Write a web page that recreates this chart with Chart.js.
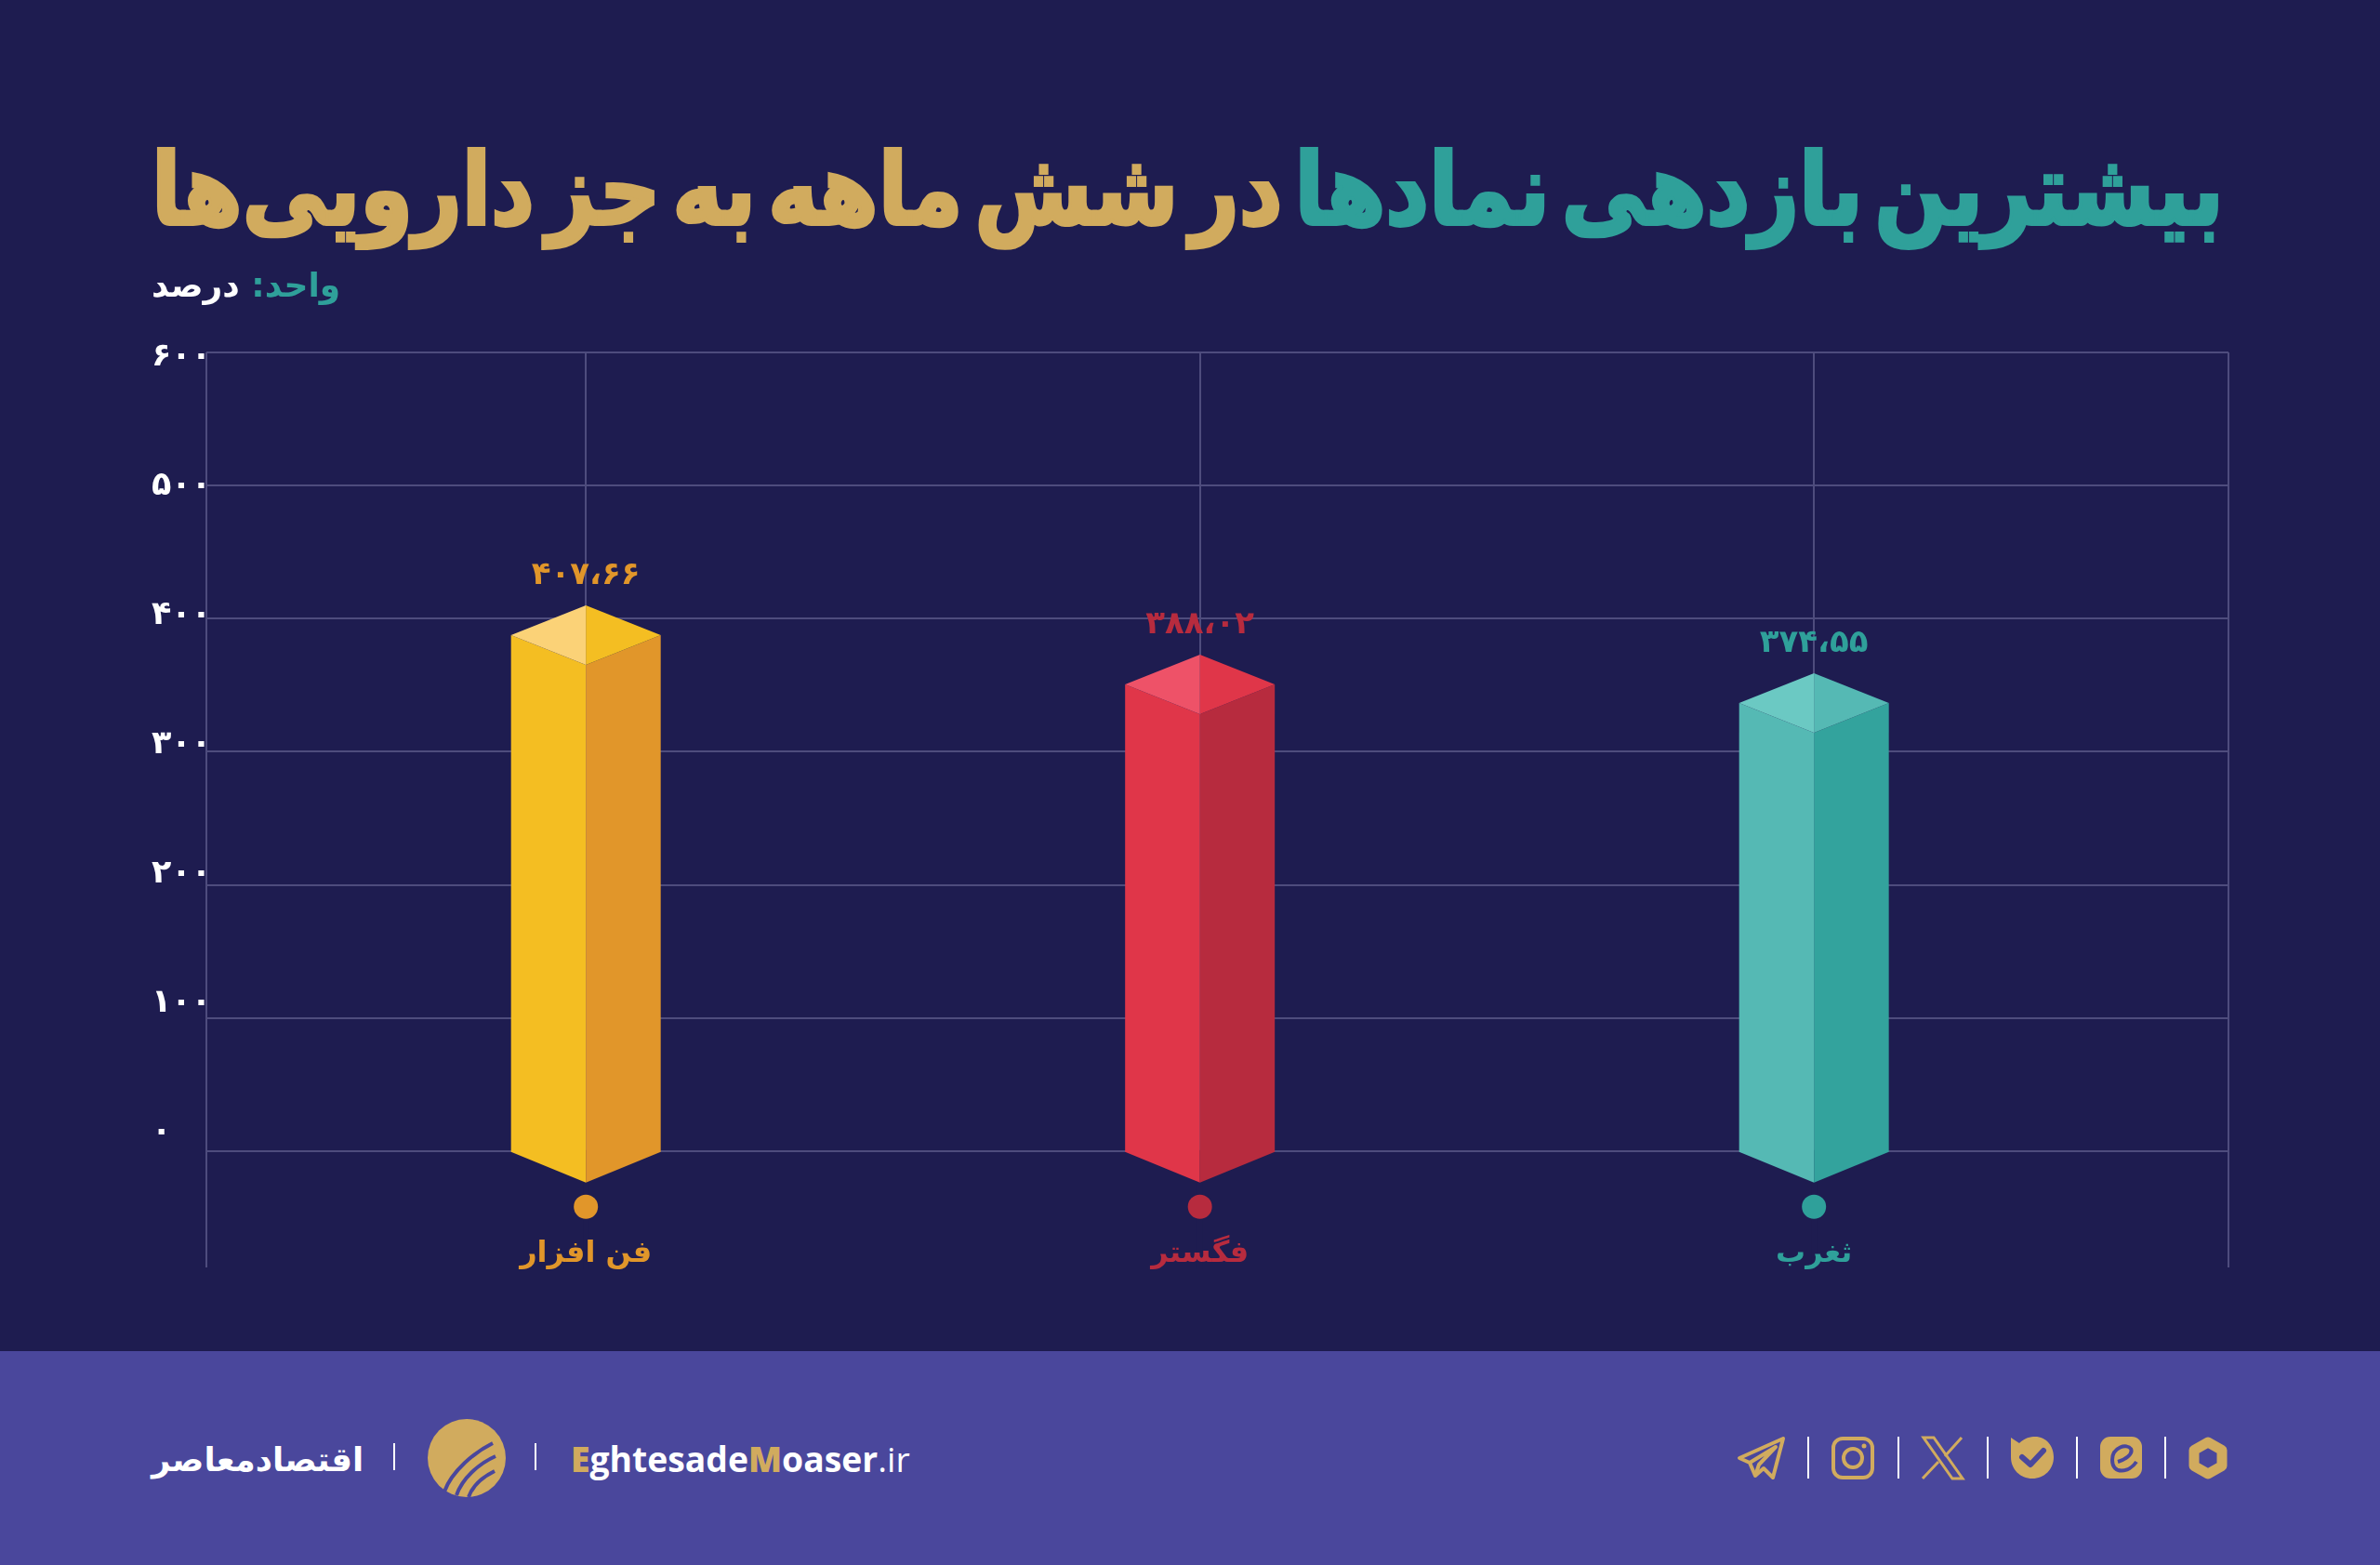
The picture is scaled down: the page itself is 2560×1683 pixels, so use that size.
<!DOCTYPE html>
<html lang="fa">
<head>
<meta charset="utf-8">
<title>بیشترین بازدهی نمادها</title>
<script src="https://cdn.jsdelivr.net/npm/chart.js@4/dist/chart.umd.min.js"></script>
<style>
    html, body { margin: 0; padding: 0; background: #1e1c50; }
    body { position: relative; width: 2560px; height: 1683px; overflow: hidden; font-family: "DejaVu Sans", sans-serif; }
    canvas { position: absolute; left: 0; top: 0; }
    .footer { position: absolute; left: 0; top: 1453px; width: 2560px; height: 230px; background: #4a479c; }
    .title { position: absolute; right: 168px; top: 135px; font-size: 106px; line-height: 140px; font-weight: bold; word-spacing: -22px; -webkit-text-stroke: 4px currentColor; direction: rtl; white-space: nowrap; color: #d1ab5e; transform-origin: right center; }
    .title span { color: #2fa09a; }
    .unit span { color: #2fa09a; }
    .unit { position: absolute; left: 163px; top: 284px; font-size: 36px; line-height: 46px; font-weight: bold; direction: rtl; white-space: nowrap; color: #fff; }
    .brand-fa { position: absolute; left: 163px; top: 1540px; font-size: 35.5px; line-height: 60px; font-weight: bold; direction: rtl; white-space: nowrap; color: #fff; }
    .brand-en { position: absolute; left: 614px; top: 1539px; font-family: "Open Sans", sans-serif; font-size: 37.3px; line-height: 60px; font-weight: 700; white-space: nowrap; color: #fff; }
    .brand-en b { color: #d1ab5e; }
    .brand-en i { font-style: normal; font-weight: 400; }
    svg.icons { position: absolute; left: 0; top: 0; }
</style>
</head>
<body>
<canvas id="returnsChart" width="2560" height="1683"></canvas>
<div class="footer"></div>
<div class="title" id="title"><span>بیشترین بازدهی نمادها</span> در شش ماهه به جز دارویی‌ها</div>
<div class="unit"><span>واحد:</span> درصد</div>
<div class="brand-fa">اقتصادمعاصر</div>
<div class="brand-en"><b>E</b>ghtesade<b>M</b>oaser<i>.ir</i></div>

<svg class="icons" width="2560" height="1683" fill="none">
    <!-- footer separators -->
    <g stroke="#fff" stroke-width="2">
        <path d="M424 1552V1581M576 1552V1581M1945 1545V1590M2042 1545V1590M2138 1545V1590M2234 1545V1590M2329 1545V1590"/>
    </g>
    <!-- logo -->
    <circle cx="502" cy="1568" r="42" fill="#d1ab5e"/>
    <g stroke="#4a479c" stroke-width="4">
        <path d="M478 1604C486 1582 510 1562 530 1552M491 1608C497 1590 515 1574 533 1566M504 1610C508 1598 520 1588 532 1582"/>
    </g>
    <!-- telegram -->
    <g stroke="#d1ab5e" stroke-width="4" stroke-linejoin="round">
        <path d="M1918 1547L1871 1568L1882 1573L1888 1587L1897 1579L1907 1589Z"/>
        <path d="M1882 1573L1910 1556L1892 1575L1888 1587"/>
    </g>
    <!-- instagram -->
    <rect x="1972" y="1547" width="42" height="42" rx="10" stroke="#d1ab5e" stroke-width="4"/>
    <circle cx="1993" cy="1568" r="10" stroke="#d1ab5e" stroke-width="4"/>
    <circle cx="2005" cy="1555" r="2.5" fill="#d1ab5e"/>
    <!-- x -->
    <g stroke="#d1ab5e" stroke-width="3">
        <path d="M2069 1546H2080L2111 1590H2100Z"/>
        <path d="M2110 1546L2092 1566M2085 1572L2068 1590"/>
    </g>
    <!-- check badge -->
    <path d="M2163 1546L2172 1552C2178 1546 2184 1545 2189 1545C2201 1545 2209 1555 2209 1567C2209 1580 2199 1590 2186 1590C2173 1590 2163 1580 2163 1567Z" fill="#d1ab5e"/>
    <path d="M2175 1567L2184 1575L2198 1560" stroke="#4a479c" stroke-width="6" stroke-linecap="round" stroke-linejoin="round"/>
    <!-- eitaa style icon -->
    <rect x="2259" y="1545" width="45" height="45" rx="11" fill="#d1ab5e"/>
    <path d="M2298 1572C2290 1584 2272 1586 2272 1570C2272 1556 2288 1552 2292 1558C2295 1564 2285 1570 2278 1572" stroke="#4a479c" stroke-width="4"/>
    <!-- hexagon -->
    <path d="M2375 1551L2390 1559.500V1576.500L2375 1585L2360 1576.500V1559.500Z" stroke="#d1ab5e" stroke-width="11" stroke-linejoin="round"/>
</svg>

<script>
// Chart data
const categories = ['فن افزار', 'فگستر', 'ثغرب'];
const positions = [1, 2, 3];
const returns = [407.66, 388.02, 374.55];
// the reference does not draw its bars to the printed values, so bar heights are read separately
const barTops = [410, 373, 359];
const yTicks = [0, 100, 200, 300, 400, 500, 600];

const leftFaces = ['#f4be22', '#e03649', '#55b9b4'];
const rightFaces = ['#e1962a', '#b72b3e', '#33a39d'];
const topLeftFaces = ['#fbd277', '#ee5268', '#6bc9c3'];
const labelColors = ['#e1962a', '#b72b3e', '#2fa09a'];

const pageColor = '#1e1c50';
const gridColor = '#4e4c7d';
const fontFamily = '"DejaVu Sans", sans-serif';

// Western digits to Persian digits
function toPersian(text) {
    return String(text).replace(/\d/g, d => '۰۱۲۳۴۵۶۷۸۹'[d]).replace('.', '،');
}

function fillPoly(ctx, color, points) {
    ctx.fillStyle = color;
    ctx.beginPath();
    points.forEach(([x, y], i) => i ? ctx.lineTo(x, y) : ctx.moveTo(x, y));
    ctx.closePath();
    ctx.fill();
}

// Paints each bar as an isometric column, from the element the bar scale has placed
const isoBars = {
    id: 'isoBars',
    afterDatasetsDraw(chart) {
        const { ctx, chartArea } = chart;
        chart.getDatasetMeta(0).data.forEach((bar, i) => {
            const { x, y, base, width } = bar.getProps(['x', 'y', 'base', 'width']);
            const half = width / 2;
            const slant = 32;

            // the vertical grid line stops at the column
            ctx.fillStyle = pageColor;
            ctx.fillRect(x - 3, base, 6, chartArea.bottom - base + 2);

            fillPoly(ctx, leftFaces[i], [[x - half, y + slant], [x, y + slant * 2], [x, base + slant + 3], [x - half, base + 2]]);
            fillPoly(ctx, rightFaces[i], [[x + half, y + slant], [x, y + slant * 2], [x, base + slant + 3], [x + half, base + 2]]);
            fillPoly(ctx, topLeftFaces[i], [[x, y], [x - half, y + slant], [x, y + slant * 2]]);
            fillPoly(ctx, leftFaces[i], [[x, y], [x + half, y + slant], [x, y + slant * 2]]);

            // value above the column
            ctx.save();
            ctx.font = `bold 34px ${fontFamily}`;
            ctx.textAlign = 'center';
            ctx.textBaseline = 'middle';
            ctx.fillStyle = labelColors[i];
            ctx.fillText(toPersian(returns[i].toFixed(2)), x, y - 32);
            ctx.restore();

            // dot under the column
            ctx.fillStyle = labelColors[i];
            ctx.beginPath();
            ctx.arc(x, base + 61, 13, 0, Math.PI * 2);
            ctx.fill();
        });
    }
};

new Chart(document.getElementById('returnsChart'), {
    type: 'bar',
    data: {
        labels: categories,
        datasets: [{
            data: positions.map((p, i) => ({ x: p, y: barTops[i] })),
            backgroundColor: 'transparent',
            barThickness: 161
        }]
    },
    plugins: [isoBars],
    options: {
        responsive: false,
        devicePixelRatio: 1,
        animation: false,
        layout: { padding: { left: 163, right: 163, top: 379, bottom: 320 } },
        plugins: { legend: { display: false }, tooltip: { enabled: false } },
        scales: {
            x: {
                type: 'linear',
                offset: false,
                min: 0.382,
                max: 3.675,
                afterBuildTicks: (scale) => {
                    scale.ticks = [scale.min, ...positions, scale.max].map(value => ({ value }));
                },
                afterFit: (scale) => { scale.height = 0; },
                grid: { offset: false, color: gridColor, lineWidth: 2, drawTicks: false },
                border: { display: false },
                ticks: {
                    autoSkip: false,
                    maxRotation: 0,
                    mirror: true,
                    padding: -5,
                    z: 1,
                    font: { family: fontFamily, size: 32, weight: 'bold' },
                    color: (c) => labelColors[positions.indexOf(c.tick.value)] || '#fff',
                    callback: (value) => categories[positions.indexOf(value)] || ''
                }
            },
            y: {
                position: 'left',
                min: -87.5,
                max: 600,
                weight: 0,
                afterBuildTicks: (scale) => { scale.ticks = yTicks.map(value => ({ value })); },
                afterFit: (scale) => { scale.width = 0; },
                grid: { color: gridColor, lineWidth: 2, drawTicks: false },
                border: { display: false },
                ticks: { display: false }
            },
            // tick labels of the reference drift from the grid lines, so they sit on their own axis
            yLabels: {
                position: 'left',
                min: -104.3,
                max: 603.6,
                weight: 1,
                afterBuildTicks: (scale) => { scale.ticks = yTicks.map(value => ({ value })); },
                afterFit: (scale) => { scale.width = 59; },
                grid: { display: false, drawTicks: false },
                border: { display: false },
                ticks: {
                    padding: 0,
                    crossAlign: 'far',
                    color: '#ffffff',
                    font: { family: fontFamily, size: 35, weight: 'bold' },
                    callback: (value) => toPersian(value)
                }
            }
        }
    }
});

// stretch the title to the width it has in the reference
const titleEl = document.getElementById('title');
titleEl.style.transform = `scaleX(${2229 / titleEl.offsetWidth})`;
</script>
</body>
</html>
